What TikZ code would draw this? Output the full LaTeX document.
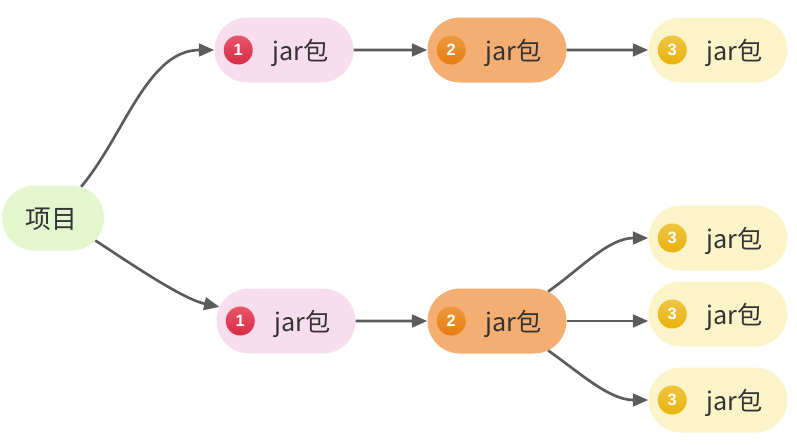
\documentclass[tikz,border=0pt]{standalone}
\usepackage{fontspec}
\setmainfont{Noto Sans CJK SC}
\setsansfont{Liberation Sans}
\usetikzlibrary{arrows.meta,shapes.misc}
\definecolor{pinkfill}{HTML}{F8DDEE}
\definecolor{orangefill}{HTML}{F5AE72}
\definecolor{yellowfill}{HTML}{FBF4C8}
\definecolor{greenfill}{HTML}{E3F6CE}
\definecolor{linkgray}{HTML}{5C5C5C}
\definecolor{textgray}{HTML}{333333}
\definecolor{redtop}{HTML}{E8566A}
\definecolor{redlow}{HTML}{D92B45}
\definecolor{ortop}{HTML}{EE9A3E}
\definecolor{orlow}{HTML}{E87B12}
\definecolor{yeltop}{HTML}{F0C440}
\definecolor{yellow2}{HTML}{E9B20F}
\tikzset{
  pillbox/.style  ={rounded rectangle,inner sep=0pt,text=textgray,font=\fontsize{21.5}{21.5}\selectfont,
                     text height=0.82cm,text depth=0.18cm,
                     minimum width=4.17cm,minimum height=1.95cm,
                     execute at begin node=\hspace*{1.0cm}},
  rootbox/.style  ={rounded rectangle,inner sep=0pt,text=textgray,font=\fontsize{22}{22}\selectfont,
                     text height=0.82cm,text depth=0.18cm,
                     minimum width=3.06cm,minimum height=1.95cm,fill=greenfill,
                     execute at begin node=\hspace*{-0.09cm}},
  badge/.style    ={circle,inner sep=0pt,minimum size=0.87cm,text=white,
                     font=\sffamily\bfseries\fontsize{14}{14}\selectfont},
  redbadge/.style ={badge,top color=redtop,bottom color=redlow},
  orbadge/.style  ={badge,top color=ortop,bottom color=orlow},
  yelbadge/.style ={badge,top color=yeltop,bottom color=yellow2},
  flow/.style     ={-{Triangle[length=4.6mm,width=3.8mm]},line width=0.08cm,linkgray},
}
\begin{document}
\begin{tikzpicture}[x=0.03cm,y=-0.03cm]
\useasboundingbox (0,0) rectangle (797,446);
% Root
\node[rootbox] (root) at (53,218) {项目};
% Upper chain
\node[pillbox,fill=pinkfill]   (topA) at (284,50) {jar包};
\node[pillbox,fill=orangefill] (topB) at (497,50) {jar包};
\node[pillbox,fill=yellowfill] (topC) at (718,50) {jar包};
% Lower chain
\node[pillbox,fill=pinkfill]   (lowA) at (286,321) {jar包};
\node[pillbox,fill=orangefill] (lowB) at (497,321) {jar包};
\node[pillbox,fill=yellowfill] (lowC) at (718,238) {jar包};
\node[pillbox,fill=yellowfill] (lowD) at (718,314) {jar包};
\node[pillbox,fill=yellowfill] (lowE) at (718,400) {jar包};
% Badges
\node[redbadge] (badgeTopA) at ([xshift=0.72cm]topA.west) {1};
\node[orbadge]  (badgeTopB) at ([xshift=0.72cm]topB.west) {2};
\node[yelbadge] (badgeTopC) at ([xshift=0.72cm]topC.west) {3};
\node[redbadge] (badgeLowA) at ([xshift=0.72cm]lowA.west) {1};
\node[orbadge]  (badgeLowB) at ([xshift=0.72cm]lowB.west) {2};
\node[yelbadge] (badgeLowC) at ([xshift=0.72cm]lowC.west) {3};
\node[yelbadge] (badgeLowD) at ([xshift=0.72cm]lowD.west) {3};
\node[yelbadge] (badgeLowE) at ([xshift=0.72cm]lowE.west) {3};
% Links
\draw[flow] (root.48) to[out=50,in=180,looseness=0.9] (topA.west);
\draw[flow] (root.-28) to[out=-33,in=168,looseness=0.7] (lowA.168);
\draw[flow] (topA) -- (topB); \draw[flow] (topB) -- (topC);
\draw[flow] (lowA) -- (lowB);
\draw[flow] (lowB.30) to[out=35,in=180,looseness=0.9] (lowC.west);
\draw[flow] (lowB.east) -- (lowB.east -| lowD.west);
\draw[flow] (lowB.-30) to[out=-35,in=180,looseness=0.9] (lowE.west);
\end{tikzpicture}
\end{document}
